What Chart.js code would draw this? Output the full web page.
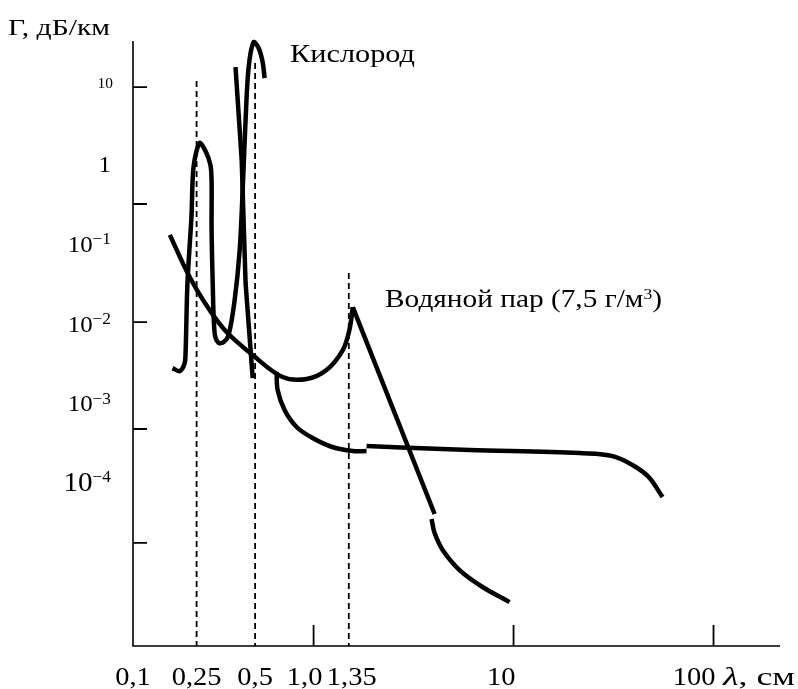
<!DOCTYPE html>
<html>
<head>
<meta charset="utf-8">
<script src="https://cdn.jsdelivr.net/npm/chart.js@4.4.0/dist/chart.umd.min.js"></script>
<style>
    html, body { margin: 0; padding: 0; background: #fff; }
</style>
</head>
<body>
<canvas id="chart" width="798" height="689"></canvas>
<script>
// wavelength λ (cm) and attenuation Γ (dB/km)

// oxygen: hook, 0.25 cm line, 0.5 cm line
const o2Lambda = [0.197, 0.214, 0.226, 0.229, 0.234, 0.245, 0.251, 0.269, 0.288, 0.305, 0.309, 0.309, 0.313,
                  0.320, 0.335, 0.355, 0.376, 0.403, 0.427, 0.442, 0.457, 0.473, 0.501, 0.531, 0.556, 0.569];
const o2Gamma = [3.1e-3, 2.84e-3, 3.48e-3, 4.79e-3, 0.0363, 0.245, 1.04, 2.08, 1.65, 1.10, 0.674, 0.168, 0.0363,
                 8.55e-3, 6.4e-3, 6.59e-3, 8.07e-3, 0.0222, 0.0942, 0.535, 4.05, 18.2, 38.6, 32.5, 21.7, 13.6];

// oxygen: steep branch under the 0.5 cm peak
const o2BranchLambda = [0.407, 0.437, 0.457, 0.496];
const o2BranchGamma = [18.7, 1.27, 0.0363, 2.32e-3];

// water vapour: falling wing up to the 1.35 cm line
const h2oLambda = [0.191, 0.240, 0.302, 0.367, 0.496, 0.700, 0.923, 1.16, 1.40, 1.51, 1.57];
const h2oGamma = [0.146, 0.0432, 0.0166, 8.8e-3, 4.52e-3, 2.39e-3, 2.26e-3, 2.93e-3, 5.22e-3, 9.31e-3, 0.0181];

// water vapour: straight fall after the peak, then the tail
const h2oSlopeLambda = [1.57, 4.03];
const h2oSlopeGamma = [0.0181, 4.55e-5];
const h2oTailLambda = [3.89, 4.03, 4.42, 5.37, 7.00, 9.55];
const h2oTailGamma = [3.94e-5, 2.62e-5, 1.61e-5, 9.0e-6, 5.51e-6, 3.56e-6];

// oxygen continuum, two pieces
const dryLambda1 = [0.653, 0.661, 0.716, 0.822, 0.989, 1.24, 1.57, 1.84];
const dryGamma1 = [2.77e-3, 1.64e-3, 9.2e-4, 5.64e-4, 4.10e-4, 3.16e-4, 2.81e-4, 2.81e-4];
const dryLambda2 = [1.84, 6.03, 21.4, 31.3, 39.4, 47.9, 55.6];
const dryGamma2 = [3.25e-4, 2.90e-4, 2.65e-4, 2.43e-4, 1.87e-4, 1.29e-4, 7.43e-5];

// dashed resonance markers
const markLambda = [0.26, 0.51, 1.5];
const markTop = [12.5, 21, 0.0484];

// axes
const xMin = 0.125, xMax = 215;
const yMin = 1e-6, yMax = 39.81;
const xLabelValues = [0.125, 0.26, 0.51, 1, 1.5, 10, 100];
const xLabelText = ['0,1', '0,25', '0,5', '1,0', '1,35', '10', '100'];
const xTickMarks = [1, 10, 100];
const yLabelValues = [10, 1, 0.1, 0.01, 0.001, 0.0001];
const yLabelBase = ['10', '1', '10', '10', '10', '10'];
const yLabelExp = ['', '', '\u22121', '\u22122', '\u22123', '\u22124'];
const yTickMarks = [10.5, 0.357, 0.0117, 5.32e-4, 1.97e-5];

const FONT = '"Liberation Serif", "Times New Roman", serif';

function pts(xs, ys) {
    return xs.map((x, i) => ({ x: x, y: ys[i] }));
}

function curve(xs, ys, tension, monotone) {
    return {
        data: pts(xs, ys),
        borderColor: '#000',
        borderWidth: 4.5,
        borderCapStyle: 'butt',
        borderJoinStyle: 'round',
        tension: tension,
        cubicInterpolationMode: monotone ? 'monotone' : 'default',
        pointRadius: 0,
        showLine: true,
        clip: false
    };
}

const datasets = [
    curve(o2Lambda, o2Gamma, 0.3),
    curve(o2BranchLambda, o2BranchGamma, 0),
    curve(h2oLambda, h2oGamma, 0.35),
    curve(h2oSlopeLambda, h2oSlopeGamma, 0),
    curve(h2oTailLambda, h2oTailGamma, 0.35),
    curve(dryLambda1, dryGamma1, 0.35),
    curve(dryLambda2, dryGamma2, 0.4, true)
];

markLambda.forEach((l, i) => {
    datasets.push({
        data: [{ x: l, y: markTop[i] }, { x: l, y: yMin }],
        borderColor: '#000',
        borderWidth: 1.8,
        borderDash: [6, 4],
        pointRadius: 0,
        showLine: true,
        tension: 0
    });
});

function txtWidth(ctx, s, size, italic) {
    ctx.font = (italic ? 'italic ' : '') + size + 'px ' + FONT;
    return ctx.measureText(s).width;
}

// sx stretches the text horizontally (the figure's serif is wider than Liberation Serif)
function txt(ctx, s, x, y, size, sx, align, italic) {
    ctx.save();
    ctx.font = (italic ? 'italic ' : '') + size + 'px ' + FONT;
    ctx.textAlign = align || 'left';
    ctx.textBaseline = 'alphabetic';
    ctx.translate(x, y);
    ctx.scale(sx, 1);
    ctx.fillText(s, 0, 0);
    ctx.restore();
}

// base text with a raised part; returns the right edge
function supText(ctx, base, sup, x, y, size, supSize, sx, align) {
    const wb = txtWidth(ctx, base, size) * sx;
    const ws = sup ? txtWidth(ctx, sup, supSize) * sx : 0;
    const x0 = align === 'right' ? x - wb - ws : x;
    txt(ctx, base, x0, y, size, sx);
    if (sup) txt(ctx, sup, x0 + wb, y - size * 0.33, supSize, sx);
    return x0 + wb + ws;
}

const axesPlugin = {
    id: 'axesPlugin',
    beforeDraw(chart) {
        const ctx = chart.ctx;
        ctx.save();
        ctx.fillStyle = '#fff';
        ctx.fillRect(0, 0, chart.width, chart.height);
        ctx.restore();
    },
    afterDraw(chart) {
        const ctx = chart.ctx;
        const area = chart.chartArea;
        const xs = chart.scales.x, ys = chart.scales.y;
        ctx.save();
        ctx.strokeStyle = '#000';
        ctx.fillStyle = '#000';
        ctx.lineWidth = 1.6;

        // axis lines
        ctx.beginPath();
        ctx.moveTo(area.left, area.top);
        ctx.lineTo(area.left, area.bottom);
        ctx.lineTo(area.right, area.bottom);
        ctx.stroke();

        // inner tick marks
        ctx.lineWidth = 1.8;
        ctx.beginPath();
        yTickMarks.forEach(v => {
            const y = ys.getPixelForValue(v);
            ctx.moveTo(area.left, y);
            ctx.lineTo(area.left + 14, y);
        });
        xTickMarks.forEach(v => {
            const x = xs.getPixelForValue(v);
            ctx.moveTo(x, area.bottom);
            ctx.lineTo(x, area.bottom - 21);
        });
        ctx.stroke();

        // y labels
        yLabelValues.forEach((v, i) => {
            const y = ys.getPixelForValue(v);
            if (i === 0) {
                txt(ctx, yLabelBase[i], 113, y - 1, 14, 1.1, 'right');
            } else {
                const size = i === yLabelValues.length - 1 ? 27 : 23;
                supText(ctx, yLabelBase[i], yLabelExp[i], 111, y + 4, size, 16, 1.08, 'right');
            }
        });

        // x labels
        xLabelValues.forEach((v, i) => {
            const x = xs.getPixelForValue(v);
            let shift = 0;
            if (xLabelText[i] === '1,0') shift = -9;
            if (xLabelText[i] === '1,35') shift = 3;
            if (v >= 10) txt(ctx, xLabelText[i], x + 2, 685, 25, 1.14, 'right');
            else txt(ctx, xLabelText[i], x + shift, 685, 25, 1.14, 'center');
        });
        const wl = txtWidth(ctx, '\u03bb', 25, true);
        const wc = txtWidth(ctx, ', см', 25);
        const sl = 72 / (wl + wc);
        txt(ctx, '\u03bb', 723, 685, 25, sl, 'left', true);
        txt(ctx, ', см', 723 + wl * sl, 685, 25, sl, 'left');

        // titles, stretched to the widths they take in the figure
        const tw = txtWidth(ctx, 'Г, дБ/км', 23);
        txt(ctx, 'Г, дБ/км', 8, 35, 23, 102 / tw, 'left');
        const kw = txtWidth(ctx, 'Кислород', 25);
        txt(ctx, 'Кислород', 290, 62, 25, 125 / kw, 'left');
        const wBase = txtWidth(ctx, 'Водяной пар (7,5 г/м', 25) + txtWidth(ctx, '3', 15) + txtWidth(ctx, ')', 25);
        const sw = 277 / wBase;
        const end = supText(ctx, 'Водяной пар (7,5 г/м', '3', 385, 307, 25, 15, sw, 'left');
        txt(ctx, ')', end, 307, 25, sw, 'left');

        ctx.restore();
    }
};

new Chart(document.getElementById('chart'), {
    type: 'scatter',
    data: { datasets: datasets },
    options: {
        responsive: false,
        animation: false,
        layout: { padding: { left: 133, right: 18, top: 41, bottom: 43 } },
        plugins: { legend: { display: false }, tooltip: { enabled: false } },
        scales: {
            x: { type: 'logarithmic', min: xMin, max: xMax, bounds: 'data', display: false },
            y: { type: 'logarithmic', min: yMin, max: yMax, bounds: 'data', display: false }
        }
    },
    plugins: [axesPlugin]
});
</script>
</body>
</html>
